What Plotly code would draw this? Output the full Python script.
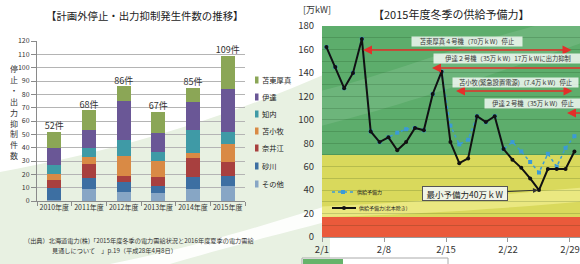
import plotly.graph_objects as go
import numpy as np

W, H = 580, 264
FONT = "Noto Sans CJK JP"

# ---------------- left chart data ----------------
years = ['2010年度', '2011年度', '2012年度', '2013年度', '2014年度', '2015年度']
s_sonota = [1, 9, 7, 6, 9, 11]          # その他
s_sunagawa = [9, 8, 7, 5, 9, 8]         # 砂川
s_naie = [6, 11, 5, 7, 14, 10]          # 奈井江
s_tomakomai = [4, 5, 15, 12, 4, 14]     # 苫小牧
s_shiriuchi = [7, 7, 12, 7, 17, 9]      # 知内
s_date = [13, 13, 29, 14, 21, 32]       # 伊達
s_tomatoatsuma = [12, 15, 11, 16, 11, 25]  # 苫東厚真

series_names = ['その他', '砂川', '奈井江', '苫小牧', '知内', '伊達', '苫東厚真']
series_vals = [s_sonota, s_sunagawa, s_naie, s_tomakomai, s_shiriuchi, s_date, s_tomatoatsuma]
series_colors = ['#87a6c5', '#3d6fa2', '#a8403f', '#d98a45', '#3f9aa6', '#6a5796', '#8ba656']

# ---------------- right chart data ----------------
days = ['2/%d' % d for d in range(1, 30)]
reserve_excl = [162, 145, 127, 140, 169, 90, 81, 85, 74, 81, 93, 91, 122, 141, 81,
                63, 67, 103, 98, 103, 75, 66, 59, 50, 40, 58, 58, 58, 73]
reserve_all = [162, 145, 127, 140, 169, 90, 81, 85, 89, 92, 93, 91, 122, 141, 95,
               79, 83, 103, 98, 103, 75, 81, 73, 64, 55, 71, 60, 76, 86]
right_ticks = ['2/1', '2/8', '2/15', '2/22', '2/29']


def px(x):
    return x / W


def py(y):
    return 1 - y / H


def P(x, y):
    return "%.4f,%.4f" % (px(x), py(y))


fig = go.Figure()

for name, vals, col in zip(series_names, series_vals, series_colors):
    fig.add_trace(go.Bar(x=years, y=vals, name=name, marker=dict(color=col, line=dict(width=0)),
                         width=0.4, xaxis='x', yaxis='y', showlegend=False))

totals = [int(v) for v in np.sum(np.array(series_vals), axis=0)]
fig.add_trace(go.Scatter(x=years, y=totals, mode='text', text=['%d件' % t for t in totals],
                         textposition='top center', textfont=dict(size=9, color='#333', family=FONT),
                         xaxis='x', yaxis='y', showlegend=False, cliponaxis=False))

xs = np.arange(len(days)) + 0.5
fig.add_trace(go.Scatter(x=xs, y=reserve_all, mode='lines+markers', name='供給予備力',
                         line=dict(color='#3b9bd6', width=1.5, dash='dot'),
                         marker=dict(symbol='square', size=4, color='#3b9bd6'),
                         xaxis='x2', yaxis='y2', showlegend=False))
fig.add_trace(go.Scatter(x=xs, y=reserve_excl, mode='lines+markers', name='供給予備力(北本除き)',
                         line=dict(color='#111', width=2),
                         marker=dict(symbol='circle', size=4, color='#111'),
                         xaxis='x2', yaxis='y2', showlegend=False))

tick_idx = [days.index(t) for t in right_ticks]

shapes = []
# background tint
shapes.append(dict(type='path', xref='paper', yref='paper', layer='below', line=dict(width=0),
                   fillcolor='#e8f1e2',
                   path="M %s C %s %s %s L %s L %s Z" % (P(0, 172), P(120, 150), P(220, 120), P(330, 72),
                                                          P(330, 264), P(0, 264))))
shapes.append(dict(type='path', xref='paper', yref='paper', layer='below', line=dict(width=0),
                   fillcolor='rgba(255,255,255,0.9)',
                   path="M %s C %s %s %s L %s C %s %s %s Z" % (P(110, 264), P(200, 246), P(260, 226), P(330, 205),
                                                                 P(330, 221), P(262, 238), P(212, 252), P(170, 264))))
# right plot bands
XR = 29.13
shapes.append(dict(type='rect', xref='x2', yref='y2', layer='below', x0=0, x1=XR, y0=0, y1=17,
                   fillcolor='#ea5a3b', line=dict(width=0)))
shapes.append(dict(type='rect', xref='x2', yref='y2', layer='below', x0=0, x1=XR, y0=17, y1=70,
                   fillcolor='#d9d95c', line=dict(width=0)))
shapes.append(dict(type='rect', xref='x2', yref='y2', layer='below', x0=0, x1=XR, y0=70, y1=180,
                   fillcolor='#5dad6c', line=dict(width=0)))
shapes.append(dict(type='path', xref='x2', yref='y2', layer='below', line=dict(width=0),
                   fillcolor='rgba(255,255,255,0.10)',
                   path="M 0,95 C 8,110 18,135 29.13,165 L 29.13,180 L 24,180 C 14,160 6,135 0,125 Z"))
shapes.append(dict(type='path', xref='x2', yref='y2', layer='below', line=dict(width=0),
                   fillcolor='rgba(255,250,175,0.45)',
                   path="M 0,17 C 10,19 20,24 29.13,30 L 29.13,42 C 20,36 10,29 0,26 Z"))
# right in-plot legend samples
shapes.append(dict(type='line', xref='paper', yref='paper', x0=px(332), x1=px(353), y0=py(192), y1=py(192),
                   line=dict(color='#3b9bd6', width=1.5, dash='dot')))
shapes.append(dict(type='rect', xref='paper', yref='paper', x0=px(341), x1=px(345), y0=py(190), y1=py(194),
                   fillcolor='#3b9bd6', line=dict(width=0)))
shapes.append(dict(type='line', xref='paper', yref='paper', x0=px(332), x1=px(356), y0=py(208), y1=py(208),
                   line=dict(color='#111', width=2)))
shapes.append(dict(type='circle', xref='paper', yref='paper', x0=px(342), x1=px(346), y0=py(206), y1=py(210),
                   fillcolor='#111', line=dict(width=0)))
# bottom tab box
shapes.append(dict(type='rect', xref='paper', yref='paper', x0=px(302), x1=px(448), y0=py(258), y1=py(272),
                   fillcolor='white', line=dict(color='#aaa', width=1)))
shapes.append(dict(type='rect', xref='paper', yref='paper', x0=px(303), x1=px(343), y0=py(259), y1=py(272),
                   fillcolor='#66b36a', line=dict(width=0)))
# left legend squares
leg_y = [80, 97, 114, 131, 148, 166, 184]
for yy, col in zip(leg_y, series_colors[::-1]):
    shapes.append(dict(type='rect', xref='paper', yref='paper', x0=px(255), x1=px(258.5),
                       y0=py(yy + 3.5), y1=py(yy - 3.5), fillcolor=col, line=dict(width=0)))

ann = []


def txt(t, x, y, size, xanchor='center', color='#333', **kw):
    d = dict(text=t, x=px(x), y=py(y), xref='paper', yref='paper', showarrow=False,
             xanchor=xanchor, yanchor='middle', font=dict(size=size, color=color, family=FONT))
    d.update(kw)
    ann.append(d)


# titles
txt('【計画外停止・出力抑制発生件数の推移】', 144, 16, 10.4, color='#222')
txt('【2015年度冬季の供給予備力】', 451, 14, 11, color='#222')
txt('[万kW]', 301, 10, 9, xanchor='left')
# left y title, stacked vertically
ytitle = '停止・出力抑制件数'
for i, ch in enumerate(ytitle):
    txt(ch, 14, 68 + i * 10.9, 8, height=10)
# left legend text
for yy, name in zip(leg_y, series_names[::-1]):
    txt(name, 259.5, yy, 7.3, xanchor='left', color='#222')
# source
txt('（出典）北海道電力(株)「2015年度冬季の電力需給状況と2016年度夏季の電力需給', 22, 240, 6.2, xanchor='left')
txt('見通しについて　」p.19（平成28年4月8日）', 50, 250, 6.2, xanchor='left')
# right legend text
txt('供給予備力', 355, 192, 5, xanchor='left', color='#222')
txt('供給予備力(北本除き)', 357, 208, 5, xanchor='left', color='#222')


def day(xpix):
    return (xpix - 322) / 8.857


def val(ypix):
    return (237 - ypix) / 1.1722


RED = '#e3302a'
# red arrows
arrows = [  # (x_head, x_tail, y, both)
    (day(363), day(573), val(50), True),
    (day(432), XR + 0.3, val(68), False),
    (day(456), day(574), val(91), True),
    (day(567), XR + 0.3, val(113), False),
]
for xh, xt, yv, both in arrows:
    ann.append(dict(text='', x=xh, y=yv, ax=xt, ay=yv, xref='x2', yref='y2', axref='x2', ayref='y2',
                    showarrow=True, arrowhead=2, arrowsize=1.2, arrowwidth=1.5, arrowcolor=RED,
                    arrowside='end+start' if both else 'end', standoff=0, startstandoff=0))
# text boxes
boxes = [
    ('苫東厚真４号機（70万ｋW）停止', 466.7, 41.2, 110),
    ('伊達２号機（35万ｋW）17万ｋWに出力抑制', 508, 58.8, 148),
    ('苫小牧(緊急設置電源)（7.4万ｋW）停止', 515.5, 82.2, 125),
    ('伊達２号機（35万ｋW）停止', 533, 103.3, 96),
]
for t, cx, cy, w in boxes:
    txt(t, cx, cy, 6.3, width=w, height=9, bgcolor='rgba(255,255,255,0.78)', borderpad=0)
# min reserve box
ann.append(dict(text='最小予備力40万ｋW', x=xs[reserve_excl.index(min(reserve_excl))], y=min(reserve_excl),
                ax=day(465), ay=val(193.5), xref='x2', yref='y2', axref='x2', ayref='y2',
                showarrow=True, arrowhead=2, arrowsize=1, arrowwidth=1, arrowcolor='#333', standoff=1,
                width=84, height=13, bgcolor='rgba(240,245,236,0.96)', bordercolor='#555', borderwidth=1,
                borderpad=0, font=dict(size=8.5, color='#222', family=FONT)))

fig.update_layout(
    width=W, height=H, margin=dict(l=0, r=0, t=0, b=0, autoexpand=False),
    paper_bgcolor='white', plot_bgcolor='rgba(0,0,0,0)',
    barmode='stack', showlegend=False, hovermode=False,
    font=dict(family=FONT, color='#333'),
    shapes=shapes, annotations=ann,
    xaxis=dict(domain=[px(37), px(245)], anchor='y', type='category', showline=True, linecolor='#8a8a8a',
               ticks='outside', tickson='boundaries', ticklen=4, tickcolor='#8a8a8a', tickangle=0,
               tickfont=dict(size=7, color='#333', family=FONT), showgrid=False, automargin=False),
    yaxis=dict(domain=[py(201), py(41)], anchor='x', range=[0, 120], dtick=10, showline=True,
               linecolor='#8a8a8a', ticks='outside', ticklen=5, tickcolor='#8a8a8a', automargin=False,
               tickfont=dict(size=7, color='#333', family=FONT), gridcolor='#b4b4b4', gridwidth=1,
               zeroline=False),
    xaxis2=dict(domain=[px(322), 1.0], anchor='y2', range=[0, XR], tickvals=tick_idx, ticktext=right_ticks,
                showline=True, linecolor='#999', ticks='outside', ticklen=4, tickcolor='#999', automargin=False,
                tickfont=dict(size=9.5, color='#333', family=FONT), showgrid=False, zeroline=False),
    yaxis2=dict(domain=[py(237), py(26)], anchor='x2', range=[0, 180], dtick=20, ticks='', automargin=False,
                ticklabelstandoff=7, tickfont=dict(size=9.5, color='#333', family=FONT),
                showgrid=True, gridcolor='rgba(0,40,0,0.16)', gridwidth=1, zeroline=False,
                minor=dict(dtick=10, showgrid=True, gridcolor='rgba(0,40,0,0.16)', gridwidth=1)),
)

fig.write_html("out.html", config={'displayModeBar': False, 'staticPlot': True},
               post_script="document.body.style.margin='0px';document.body.style.overflow='hidden';")
